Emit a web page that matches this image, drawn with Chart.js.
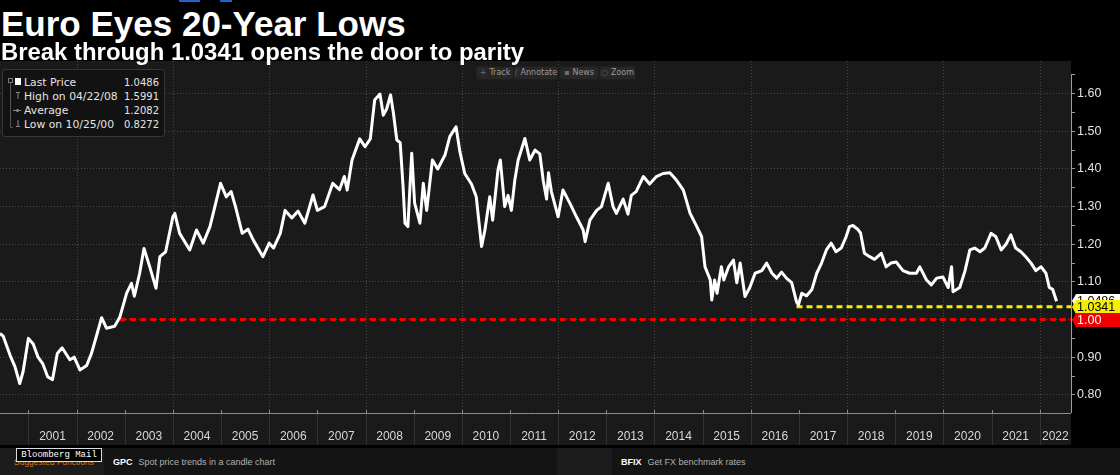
<!DOCTYPE html>
<html>
<head>
<meta charset="utf-8">
<title>Euro Eyes 20-Year Lows</title>
<script src="https://cdn.jsdelivr.net/npm/chart.js@4.4.1/dist/chart.umd.min.js"></script>
<style>
  html, body { margin: 0; padding: 0; background: #000; }
  body { width: 1120px; height: 475px; overflow: hidden; position: relative;
         font-family: "Liberation Sans", Arial, sans-serif; color: #fff; }
  .tab { position: absolute; top: 0; height: 2px; background: #1f63c9; }
  .title { position: absolute; left: 1px; top: 6px; font-size: 35px; line-height: 35px;
           font-weight: bold; white-space: nowrap; z-index: 3; }
  .subtitle { position: absolute; left: 1px; top: 40px; font-size: 23.9px; line-height: 24px;
              font-weight: bold; white-space: nowrap; z-index: 3; }
  #chartBox { position: absolute; left: 0; top: 61px; width: 1120px; height: 386px; }
  /* legend box, top left */
  #legend { position: absolute; left: 2px; top: 69px; width: 161px; height: 66px;
            background: #121212; border: 1px solid #363636; border-radius: 3px; z-index: 2;
            font-family: "DejaVu Sans", sans-serif; font-size: 10.8px; color: #e4e4e4; }
  #legend .row { position: absolute; left: 21px; right: 5px; height: 14px; line-height: 14px; white-space: nowrap; }
  #legend .row span.v { position: absolute; right: 0; top: 0; font-size: 10px; }
  #legendMarks { position: absolute; left: 0; top: 0; width: 30px; height: 140px; z-index: 3; }
  /* toolbar */
  #toolbar { position: absolute; left: 476px; top: 66px; height: 14px; width: 160px;
             background: #1e1e1e; z-index: 2; font-family: "DejaVu Sans", sans-serif; }
  #toolbar div { position: absolute; top: 1px; height: 12px; line-height: 12px; background: #272727;
                 color: #9a9a9a; font-size: 8px; border-radius: 2px; text-align: center; }
  #toolbar b { color: #6f6f6f; font-weight: normal; margin-right: 3px; }
  /* footer */
  #footer { position: absolute; left: 0; top: 448px; width: 1120px; height: 27px; background: #1c1c1c; }
  .card { position: absolute; top: 0; height: 27px; background: #141414; }
  .fn { position: absolute; top: 9px; font-size: 9px; line-height: 11px; white-space: nowrap; color: #b0b0b0; }
  .fn b { color: #fff; margin-right: 6px; }
  #suggest { position: absolute; left: 14px; top: 9px; font-size: 8.5px; line-height: 11px; color: #c87a26; white-space: nowrap; }
  #mail { position: absolute; left: 16px; top: 0px; width: 84px; height: 12px; background: #000;
          border: 1px solid #dcdcdc; font-family: "Liberation Mono", monospace; font-size: 9px;
          line-height: 12px; color: #fff; text-align: center; }
</style>
</head>
<body>
<div class="tab" style="left:179px;width:21px"></div>
<div class="tab" style="left:220px;width:12px"></div>

<div class="title">Euro Eyes 20-Year Lows</div>
<div class="subtitle">Break through 1.0341 opens the door to parity</div>

<div id="chartBox"><canvas id="fxChart" width="1120" height="386"></canvas></div>

<div id="legend">
  <div class="row" style="top:6px">Last Price<span class="v" id="lgLast"></span></div>
  <div class="row" style="top:20px">High on 04/22/08<span class="v" id="lgHigh"></span></div>
  <div class="row" style="top:34px">Average<span class="v" id="lgAvg"></span></div>
  <div class="row" style="top:48px">Low on 10/25/00<span class="v" id="lgLow"></span></div>
</div>
<svg id="legendMarks" width="30" height="140">
  <rect x="8.5" y="78.5" width="4" height="4" fill="none" stroke="#7a7a7a"/>
  <rect x="15" y="78" width="6" height="7" fill="#fff"/>
  <line x1="10.5" y1="83" x2="10.5" y2="127" stroke="#555"/>
  <line x1="10.5" y1="127.5" x2="13" y2="127.5" stroke="#555"/>
  <line x1="16" y1="92.5" x2="20" y2="92.5" stroke="#888"/>
  <line x1="18" y1="92.5" x2="18" y2="99" stroke="#888"/>
  <line x1="13" y1="110.5" x2="21" y2="110.5" stroke="#888"/>
  <rect x="16.5" y="109" width="2" height="3" fill="#888"/>
  <line x1="18" y1="120" x2="18" y2="126" stroke="#888"/>
  <line x1="16" y1="126.5" x2="20" y2="126.5" stroke="#888"/>
</svg>

<div id="toolbar">
  <div style="left:1px;width:36px"><b>+</b>Track</div>
  <div style="left:38px;width:44px"><b>&#8725;</b>Annotate</div>
  <div style="left:84px;width:38px"><b>&#9642;</b>News</div>
  <div style="left:124px;width:35px"><b>&#9675;</b>Zoom</div>
</div>

<div id="footer">
  <div id="suggest">Suggested Functions</div>
  <div id="mail">Bloomberg Mail</div>
  <div class="card" style="left:104px;width:453px"></div>
  <div class="card" style="left:612px;width:508px"></div>
  <div class="fn" style="left:113px"><b>GPC</b>Spot price trends in a candle chart</div>
  <div class="fn" style="left:621px"><b>BFIX</b>Get FX benchmark rates</div>
</div>

<script>
// EUR/USD spot (decimal years)
const eurDates = [
  2000.41, 2000.48, 2000.55, 2000.62, 2000.72, 2000.82, 2000.89, 2001.00, 2001.10, 2001.20,
  2001.30, 2001.40, 2001.50, 2001.60, 2001.70, 2001.86, 2001.95, 2002.07, 2002.21, 2002.31,
  2002.41, 2002.52, 2002.62, 2002.79, 2002.90, 2003.04, 2003.14, 2003.20, 2003.31, 2003.40,
  2003.52, 2003.65, 2003.73, 2003.85, 2004.00, 2004.04, 2004.14, 2004.35, 2004.49, 2004.63,
  2004.77, 2004.99, 2005.11, 2005.21, 2005.30, 2005.44, 2005.56, 2005.67, 2005.87, 2006.00,
  2006.09, 2006.23, 2006.33, 2006.47, 2006.60, 2006.74, 2006.91, 2007.00, 2007.15, 2007.32,
  2007.46, 2007.56, 2007.62, 2007.72, 2007.88, 2007.99, 2008.10, 2008.19, 2008.30, 2008.37,
  2008.44, 2008.52, 2008.58, 2008.65, 2008.72, 2008.78, 2008.82, 2008.88, 2008.96, 2009.02,
  2009.13, 2009.20, 2009.27, 2009.39, 2009.50, 2009.65, 2009.75, 2009.88, 2009.96, 2010.06,
  2010.20, 2010.30, 2010.41, 2010.48, 2010.58, 2010.64, 2010.75, 2010.80, 2010.89, 2010.96,
  2011.03, 2011.10, 2011.17, 2011.31, 2011.41, 2011.52, 2011.62, 2011.69, 2011.76, 2011.80,
  2011.86, 2012.00, 2012.10, 2012.24, 2012.38, 2012.52, 2012.56, 2012.66, 2012.80, 2012.90,
  2013.04, 2013.14, 2013.21, 2013.35, 2013.45, 2013.52, 2013.62, 2013.77, 2013.90, 2014.04,
  2014.18, 2014.32, 2014.46, 2014.60, 2014.74, 2014.88, 2014.98, 2015.05, 2015.16, 2015.19,
  2015.25, 2015.30, 2015.39, 2015.44, 2015.54, 2015.64, 2015.71, 2015.78, 2015.88, 2015.98,
  2016.09, 2016.23, 2016.33, 2016.44, 2016.54, 2016.64, 2016.74, 2016.85, 2016.95, 2016.99,
  2017.06, 2017.16, 2017.27, 2017.37, 2017.47, 2017.57, 2017.67, 2017.77, 2017.88, 2017.98,
  2018.05, 2018.12, 2018.22, 2018.28, 2018.36, 2018.47, 2018.57, 2018.71, 2018.81, 2018.91,
  2019.02, 2019.16, 2019.30, 2019.44, 2019.51, 2019.65, 2019.75, 2019.86, 2019.99, 2020.10,
  2020.17, 2020.20, 2020.34, 2020.45, 2020.55, 2020.65, 2020.76, 2020.86, 2020.99, 2021.09,
  2021.20, 2021.30, 2021.40, 2021.50, 2021.61, 2021.71, 2021.82, 2021.92, 2022.03, 2022.13,
  2022.20, 2022.27, 2022.35
];
const eurPrices = [
  0.963, 0.955, 0.930, 0.905, 0.875, 0.830, 0.862, 0.950, 0.935, 0.900,
  0.882, 0.848, 0.840, 0.910, 0.925, 0.893, 0.900, 0.866, 0.878, 0.910,
  0.955, 1.005, 0.977, 0.982, 1.007, 1.070, 1.096, 1.062, 1.123, 1.189,
  1.140, 1.083, 1.167, 1.180, 1.273, 1.282, 1.229, 1.185, 1.238, 1.203,
  1.247, 1.362, 1.326, 1.340, 1.300, 1.229, 1.240, 1.211, 1.167, 1.203,
  1.190, 1.229, 1.290, 1.270, 1.288, 1.256, 1.331, 1.290, 1.300, 1.362,
  1.345, 1.380, 1.344, 1.424, 1.480, 1.459, 1.480, 1.583, 1.599, 1.543,
  1.560, 1.597, 1.548, 1.477, 1.470, 1.353, 1.256, 1.247, 1.442, 1.309,
  1.256, 1.362, 1.290, 1.424, 1.400, 1.437, 1.486, 1.512, 1.446, 1.388,
  1.360, 1.326, 1.194, 1.238, 1.326, 1.264, 1.397, 1.424, 1.300, 1.330,
  1.290, 1.370, 1.424, 1.481, 1.424, 1.450, 1.440, 1.370, 1.320, 1.390,
  1.340, 1.273, 1.344, 1.310, 1.273, 1.238, 1.207, 1.264, 1.290, 1.300,
  1.362, 1.300, 1.282, 1.320, 1.280, 1.330, 1.340, 1.380, 1.360, 1.380,
  1.388, 1.390, 1.370, 1.344, 1.282, 1.247, 1.220, 1.140, 1.105, 1.052,
  1.105, 1.070, 1.140, 1.105, 1.140, 1.158, 1.098, 1.150, 1.061, 1.085,
  1.123, 1.130, 1.150, 1.123, 1.110, 1.126, 1.110, 1.098, 1.047, 1.039,
  1.070, 1.063, 1.080, 1.123, 1.150, 1.185, 1.203, 1.180, 1.190, 1.220,
  1.247, 1.250, 1.240, 1.230, 1.176, 1.167, 1.160, 1.176, 1.140, 1.150,
  1.153, 1.130, 1.123, 1.123, 1.140, 1.105, 1.092, 1.110, 1.113, 1.085,
  1.140, 1.074, 1.085, 1.130, 1.185, 1.190, 1.180, 1.190, 1.229, 1.220,
  1.185, 1.200, 1.225, 1.190, 1.180, 1.167, 1.150, 1.130, 1.140, 1.123,
  1.085, 1.080, 1.0486
];

const yearLabels = ['2001', '2002', '2003', '2004', '2005', '2006', '2007', '2008', '2009', '2010', '2011',
                    '2012', '2013', '2014', '2015', '2016', '2017', '2018', '2019', '2020', '2021', '2022'];
const priceTicks = [0.80, 0.85, 0.90, 0.95, 1.00, 1.05, 1.10, 1.15, 1.20, 1.25,
                    1.30, 1.35, 1.40, 1.45, 1.50, 1.55, 1.60, 1.65];

// summary figures and reference levels
const lastPrice = 1.0486;
const highPrice = 1.5991;
const avgPrice = 1.2082;
const lowPrice = 0.8272;
const breakLevel = 1.0341;
const breakStart = 2016.95;
const parityLevel = 1.00;
const parityStart = 2002.90;

// visible window
const xMin = 2000.41, xMax = 2022.65;
const yMin = 0.7517, yMax = 1.6869;

document.getElementById('lgLast').textContent = lastPrice.toFixed(4);
document.getElementById('lgHigh').textContent = highPrice.toFixed(4);
document.getElementById('lgAvg').textContent = avgPrice.toFixed(4);
document.getElementById('lgLow').textContent = lowPrice.toFixed(4);

const isMajor = (v) => Math.abs(Math.round(v * 10) - v * 10) < 1e-6;
const bandCenter = (yr) => (Math.max(yr, xMin) + Math.min(yr + 1, xMax)) / 2;

function drawTag(ctx, scale, x, value, bg, fg, text) {
    const y = Math.round(scale.getPixelForValue(value));
    ctx.fillStyle = bg;
    ctx.beginPath();
    ctx.moveTo(x, y);
    ctx.lineTo(x + 4, y - 7);
    ctx.lineTo(1120, y - 7);
    ctx.lineTo(1120, y + 7);
    ctx.lineTo(x + 4, y + 7);
    ctx.closePath();
    ctx.fill();
    ctx.fillStyle = fg;
    ctx.font = '12.5px "Liberation Sans", Arial, sans-serif';
    ctx.textBaseline = 'middle';
    ctx.textAlign = 'left';
    ctx.fillText(text, x + 5, y + 0.5);
}

// panel background, year grid, axis lines and the price tags on the right
const panelPlugin = {
    id: 'panel',
    beforeDraw(chart) {
        const { ctx, chartArea: a, height } = chart;
        ctx.save();
        ctx.fillStyle = '#000';
        ctx.fillRect(0, 0, chart.width, height);
        ctx.fillStyle = '#1a1a1a';
        ctx.fillRect(a.left, 0, a.right - a.left, height);
        ctx.restore();
    },
    beforeDatasetsDraw(chart) {
        const { ctx, chartArea: a, scales: { x } } = chart;
        ctx.save();
        ctx.strokeStyle = '#474747';
        ctx.lineWidth = 1;
        ctx.setLineDash([1, 2]);
        yearLabels.forEach((lbl) => {
            const yr = Number(lbl);
            if (yr % 2) return;
            const px = Math.round(x.getPixelForValue(yr)) + 0.5;
            ctx.beginPath();
            ctx.moveTo(px, a.top);
            ctx.lineTo(px, a.bottom);
            ctx.stroke();
        });
        ctx.restore();
    },
    afterDraw(chart) {
        const { ctx, chartArea: a, height, scales: { x, y } } = chart;
        ctx.save();
        // year separators in the date band
        ctx.lineWidth = 1;
        yearLabels.forEach((lbl) => {
            const px = Math.round(x.getPixelForValue(Number(lbl))) + 0.5;
            ctx.strokeStyle = '#333';
            ctx.beginPath();
            ctx.moveTo(px, a.bottom);
            ctx.lineTo(px, height);
            ctx.stroke();
            ctx.strokeStyle = '#8a8a8a';
            ctx.beginPath();
            ctx.moveTo(px, a.bottom - 3);
            ctx.lineTo(px, a.bottom);
            ctx.stroke();
        });
        // bottom axis
        ctx.strokeStyle = '#8a8a8a';
        ctx.beginPath();
        ctx.moveTo(a.left, a.bottom + 0.5);
        ctx.lineTo(a.right, a.bottom + 0.5);
        ctx.stroke();
        // right axis
        ctx.strokeStyle = '#9a9a9a';
        ctx.beginPath();
        ctx.moveTo(a.right + 0.5, Math.round(y.getPixelForValue(1.65)));
        ctx.lineTo(a.right + 0.5, a.bottom);
        ctx.stroke();
        // black rule under the date band
        ctx.fillStyle = '#000';
        ctx.fillRect(0, height - 2, chart.width, 2);

        const tx = a.right + 1;
        drawTag(ctx, y, tx, lastPrice, '#ffffff', '#000', lastPrice.toFixed(4));
        drawTag(ctx, y, tx, breakLevel, '#f5ee00', '#000', breakLevel.toFixed(4));
        drawTag(ctx, y, tx, parityLevel, '#f00000', '#fff', parityLevel.toFixed(2));
        ctx.restore();
    }
};

Chart.defaults.font.family = '"Liberation Sans", Arial, sans-serif';

new Chart(document.getElementById('fxChart'), {
    type: 'line',
    data: {
        datasets: [
            {
                label: 'EURUSD',
                data: eurDates.map((d, i) => ({ x: d, y: eurPrices[i] })),
                borderColor: '#ffffff',
                borderWidth: 3,
                borderJoinStyle: 'round',
                pointRadius: 0,
                order: 1
            },
            {
                label: 'Break level',
                data: [{ x: breakStart, y: breakLevel }, { x: xMax, y: breakLevel }],
                borderColor: '#f5ee00',
                borderWidth: 3,
                borderDash: [6, 4],
                pointRadius: 0,
                order: 2
            },
            {
                label: 'Parity',
                data: [{ x: parityStart, y: parityLevel }, { x: xMax, y: parityLevel }],
                borderColor: '#f00000',
                borderWidth: 3,
                borderDash: [6, 4],
                pointRadius: 0,
                order: 3
            }
        ]
    },
    options: {
        responsive: false,
        animation: false,
        devicePixelRatio: 1,
        layout: { padding: 0 },
        plugins: { legend: { display: false }, tooltip: { enabled: false } },
        elements: { line: { tension: 0 } },
        scales: {
            x: {
                type: 'linear',
                min: xMin,
                max: xMax,
                grid: { display: false, drawTicks: false },
                border: { display: false },
                ticks: {
                    autoSkip: false,
                    maxRotation: 0,
                    padding: 16,
                    color: '#d8d8d8',
                    font: { size: 12 },
                    callback: (v, i) => yearLabels[i]
                },
                afterBuildTicks: (s) => { s.ticks = yearLabels.map((l) => ({ value: bandCenter(Number(l)) })); },
                afterFit: (s) => { s.height = 34; s.paddingLeft = 0; s.paddingRight = 0; }
            },
            y: {
                type: 'linear',
                position: 'right',
                min: yMin,
                max: yMax,
                grid: {
                    color: (c) => (c.tick && isMajor(c.tick.value) ? '#474747' : 'rgba(0,0,0,0)'),
                    tickColor: '#9a9a9a',
                    tickLength: 4
                },
                border: { display: false, dash: [1, 2] },
                ticks: {
                    autoSkip: false,
                    padding: 2,
                    color: '#dfe3e8',
                    font: { size: 12.5 },
                    callback: (v) => (isMajor(v) ? v.toFixed(2) : '')
                },
                afterBuildTicks: (s) => { s.ticks = priceTicks.map((v) => ({ value: v })); },
                afterFit: (s) => { s.width = 49; s.paddingTop = 0; s.paddingBottom = 0; }
            }
        }
    },
    plugins: [panelPlugin]
});
</script>
</body>
</html>
